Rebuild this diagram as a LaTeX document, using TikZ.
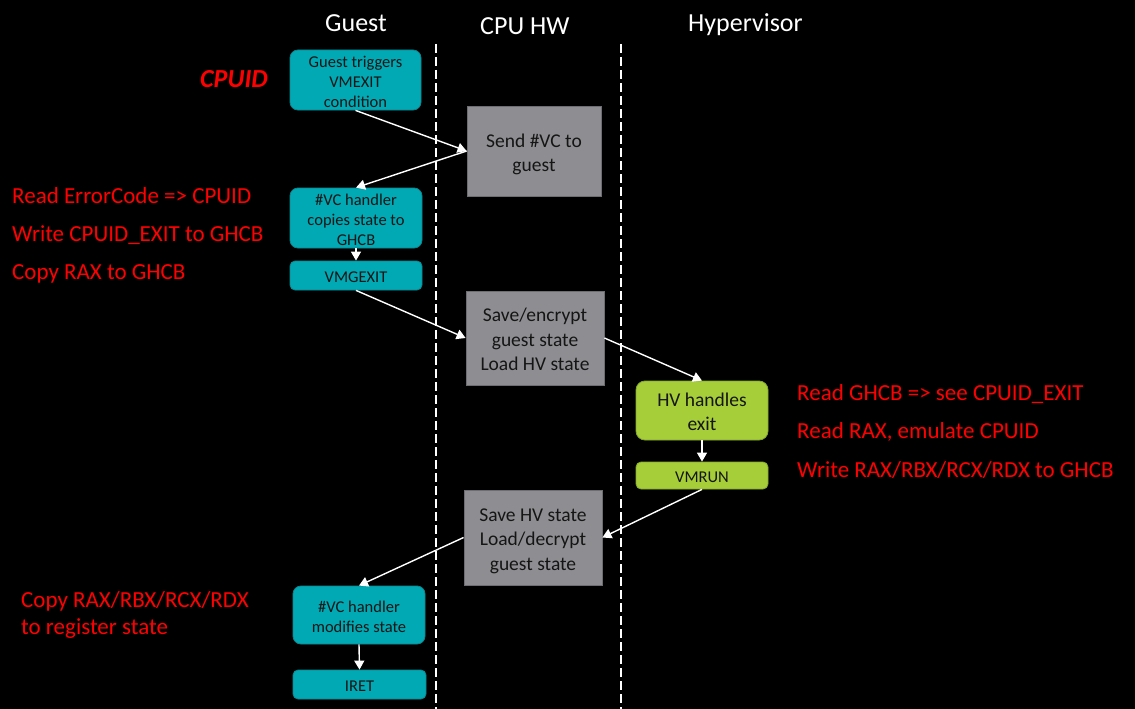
\documentclass[tikz,border=0pt]{standalone}
\usepackage{fontspec}
\setmainfont{Carlito}
\usetikzlibrary{arrows.meta}
\definecolor{teal}{HTML}{00A9B4}
\definecolor{tealedge}{HTML}{0A8890}
\definecolor{hwgray}{HTML}{8E8E92}
\definecolor{hwedge}{HTML}{6E6E72}
\definecolor{hvgreen}{HTML}{A6CE39}
\definecolor{hvedge}{HTML}{86A82C}
\definecolor{annred}{HTML}{FF0000}
\definecolor{boxtext}{HTML}{151515}
\newcommand\bt[2]{\raisebox{#1}[\height][\depth]{\begin{tabular}{@{}c@{}}#2\end{tabular}}}
\tikzset{
  gbox/.style={draw=tealedge, line width=0.8pt, fill=teal, rounded corners=8pt, text=boxtext, inner sep=0pt},
  cbox/.style={draw=hwedge, line width=0.8pt, fill=hwgray, text=boxtext, inner sep=0pt},
  hbox/.style={draw=hvedge, line width=0.8pt, fill=hvgreen, rounded corners=9pt, text=boxtext, inner sep=0pt},
  smallfont/.style={font=\fontsize{16.5}{20}\selectfont},
  bigfont/.style={font=\fontsize{19.5}{24.5}\selectfont},
  ann/.style={text=annred, anchor=base west, inner sep=0pt, font=\fontsize{23}{28}\selectfont},
  hdr/.style={text=white, anchor=base west, inner sep=0pt, font=\fontsize{26}{30}\selectfont},
  flow/.style={draw=white, line width=1.4pt, -{Triangle[width=10pt,length=9pt]}},
  lane/.style={draw=white, line width=1.3pt, dash pattern=on 9pt off 4pt},
}
\begin{document}
\begin{tikzpicture}[x=1pt,y=-1pt]
\fill[black] (0,0) rectangle (1135,709);
\useasboundingbox (0,0) rectangle (1135,709);

% lanes
\coordinate (l1t) at (436,44);
\coordinate (l1b) at (436,709);
\coordinate (l2t) at (621,44);
\coordinate (l2b) at (621,709);
\draw[lane] (l1t) -- (l1b);
\draw[lane] (l2t) -- (l2b);

% headers
\node[hdr] (hg) at (325,32) {Guest};
\node[hdr] (hc) at (480,35) {CPU HW};
\node[hdr] (hh) at (688,32) {Hypervisor};

% guest boxes
\node[gbox, smallfont, minimum width=131pt, minimum height=58pt] (g1) at (355.5,80) {\bt{-3.5pt}{Guest triggers\\VMEXIT\\condition}};
\node[gbox, smallfont, minimum width=132pt, minimum height=58pt] (g2) at (356,218) {\bt{-3.5pt}{\#VC handler\\copies state to\\GHCB}};
\node[gbox, smallfont, rounded corners=5pt, minimum width=132pt, minimum height=29pt] (g3) at (356,275.5) {\bt{-3pt}{VMGEXIT}};
\node[gbox, smallfont, minimum width=132pt, minimum height=58pt] (g4) at (359,615) {\bt{-3.5pt}{\#VC handler\\modifies state}};
\node[gbox, smallfont, rounded corners=5pt, minimum width=133pt, minimum height=29pt] (g5) at (359.5,684.5) {\bt{-3pt}{IRET}};

% cpu boxes
\node[cbox, bigfont, minimum width=134pt, minimum height=90pt] (c1) at (534,151) {\bt{-3.5pt}{Send \#VC to\\guest}};
\node[cbox, bigfont, minimum width=138pt, minimum height=94pt] (c2) at (535,338) {\bt{-3.5pt}{Save/encrypt\\guest state\\Load HV state}};
\node[cbox, bigfont, minimum width=138pt, minimum height=95pt] (c3) at (533,537.5) {\bt{-3.5pt}{Save HV state\\Load/decrypt\\guest state}};

% hypervisor boxes
\node[hbox, bigfont, minimum width=132pt, minimum height=59pt] (h1) at (702,410.5) {\bt{-3pt}{HV handles\\exit}};
\node[hbox, smallfont, rounded corners=5pt, minimum width=132pt, minimum height=27pt] (h2) at (702,475.5) {\bt{-3pt}{VMRUN}};

% arrows
\draw[flow] (g1.south) -- (c1.west);
\draw[flow] (c1.west) -- (g2.north);
\draw[flow] (g2.south) -- (g3.north);
\draw[flow] (g3.south) -- (c2.west);
\draw[flow] (c2.east) -- (h1.north);
\draw[flow] (h1.south) -- (h2.north);
\draw[flow] (h2.south) -- (c3.east);
\draw[flow] (c3.west) -- (g4.north);
\draw[flow] (g4.south) -- (g5.north);

% annotations
\node[ann, font=\fontsize{26}{30}\bfseries\itshape\selectfont] (cpuid) at (200,88) {CPUID};
\node[ann] (a1) at (12,203) {Read ErrorCode => CPUID};
\node[ann] (a2) at (12,241) {Write CPUID\_EXIT to GHCB};
\node[ann] (a3) at (12,279) {Copy RAX to GHCB};
\node[ann] (b1) at (797,400) {Read GHCB => see CPUID\_EXIT};
\node[ann] (b2) at (797,438) {Read RAX, emulate CPUID};
\node[ann] (b3) at (797,477) {Write RAX/RBX/RCX/RDX to GHCB};
\node[ann] (d1) at (21,607) {Copy RAX/RBX/RCX/RDX};
\node[ann] (d2) at (21,634) {to register state};
\end{tikzpicture}
\end{document}
